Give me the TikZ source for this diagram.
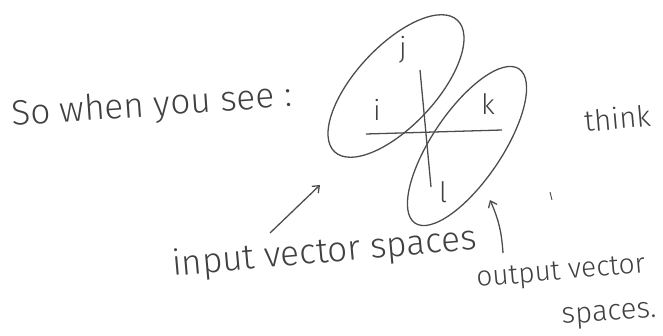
\documentclass[tikz,border=0pt]{standalone}
\usepackage{fontspec}
\setmainfont{Fira Sans Light}
\usepackage{tikz}
\usetikzlibrary{shapes.geometric, arrows, arrows.meta, positioning, calc}

\begin{document}
\begin{tikzpicture}[
    x=0.03cm, y=-0.03cm,
    pen/.style={draw=black!70, line width=1.1pt},
    hand/.style={text=black!75, font=\fontsize{30}{36}\selectfont, inner sep=0pt, anchor=base west},
    letter/.style={text=black!75, font=\fontsize{24}{30}\selectfont, inner sep=0pt},
    space/.style={pen, ellipse, inner sep=0pt, outer sep=0pt},
    arrow/.style={pen, -{Straight Barb[length=5pt,width=8pt]}}
]
\useasboundingbox (0,0) rectangle (663,336);

\node[hand, rotate=4] (intro) at (12,126) {So when you see :};
\node[hand, rotate=5, font=\fontsize{25}{30}\selectfont] (think) at (585,132) {think};

\node[space, minimum width=5.4cm, minimum height=2.4cm, rotate=47] (inSpace) at (396,86) {};
\node[space, minimum width=5.58cm, minimum height=2.1cm, rotate=56] (outSpace) at (467,146) {};

\coordinate (hL) at (366,134);
\coordinate (hR) at (502,130);
\coordinate (vT) at (420,70);
\coordinate (vB) at (431,187);
\draw[pen] (hL) -- (hR);
\draw[pen] (vT) -- (vB);

\node[letter] (j) at (403,50) {j};
\node[letter] (i) at (377,110) {i};
\node[letter] (k) at (488,104) {k};
\node[letter] (l) at (443,192) {l};

\coordinate (inTail) at (270,233);
\coordinate (inTip) at (320,185);
\coordinate (outTail) at (503,253);
\coordinate (outTip) at (490,200);
\draw[arrow] (inTail) -- (inTip);
\draw[arrow] (outTail) to[bend right=10] (outTip);
\draw[pen, line width=0.8pt] (550,192) -- (552,200);

\node[hand, rotate=5] (inLabel) at (173,276) {input vector spaces};
\node[hand, rotate=5, font=\fontsize{24}{29}\selectfont] (outLabel) at (477,287) {output vector};
\node[hand, rotate=4, font=\fontsize{25}{30}\selectfont] (outLabel2) at (562,324) {spaces.};

\end{tikzpicture}
\end{document}
